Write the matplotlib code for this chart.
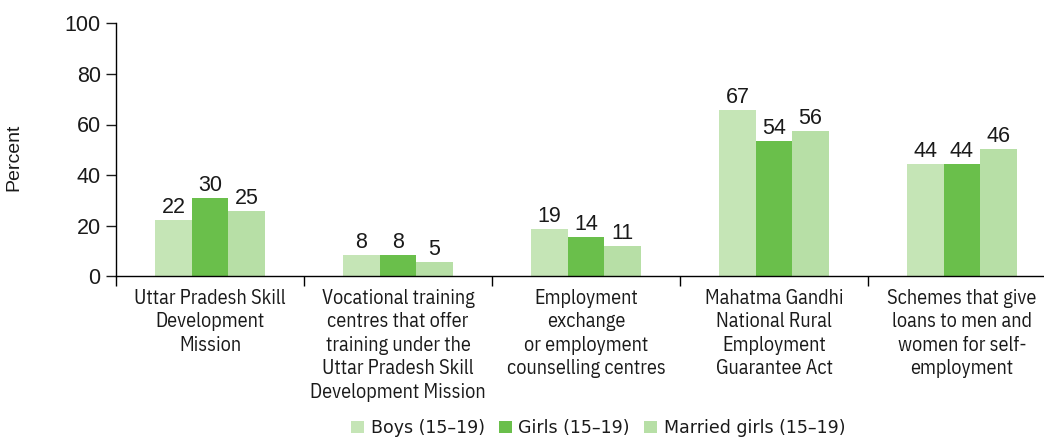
import matplotlib
matplotlib.use("Agg")
import matplotlib.pyplot as plt
import numpy as np

categories = [
    "Uttar Pradesh Skill\nDevelopment\nMission",
    "Vocational training\ncentres that offer\ntraining under the\nUttar Pradesh Skill\nDevelopment Mission",
    "Employment\nexchange\nor employment\ncounselling centres",
    "Mahatma Gandhi\nNational Rural\nEmployment\nGuarantee Act",
    "Schemes that give\nloans to men and\nwomen for self-\nemployment",
]
series_names = ["Boys (15\u201319)", "Girls (15\u201319)", "Married girls (15\u201319)"]
# bar heights as drawn in the reference
boys_heights = [22.3, 8.5, 18.7, 65.7, 44.4]
girls_heights = [30.9, 8.5, 15.5, 53.5, 44.4]
married_heights = [25.8, 5.6, 11.9, 57.4, 50.3]
# printed value labels
boys_labels = [22, 8, 19, 67, 44]
girls_labels = [30, 8, 14, 54, 44]
married_labels = [25, 5, 11, 56, 46]
yticks = [0, 20, 40, 60, 80, 100]

colors = ["#c5e5b6", "#6abf4b", "#b7dfa6"]

MAIN = ["Liberation Sans", "DejaVu Sans"]
NARROW = ["IBM Plex Sans Condensed", "Roboto Condensed", "DejaVu Sans"]
LEGEND = ["DejaVu Sans"]
plt.rcParams["font.family"] = MAIN
TXT = "#1a1a1a"

fig = plt.figure(figsize=(10.44, 4.41), dpi=100)
ax = fig.add_axes([116 / 1044, (441 - 276.3) / 441, 940 / 1044, 253 / 441])

x = np.arange(len(categories)) + 0.5
w = 0.194
heights = [boys_heights, girls_heights, married_heights]
labels = [boys_labels, girls_labels, married_labels]
for i, (h, lab) in enumerate(zip(heights, labels)):
    pos = x + (i - 1) * w
    bars = ax.bar(pos, h, width=w, color=colors[i], label=series_names[i], zorder=2)
    for b, l in zip(bars, lab):
        ax.text(b.get_x() + b.get_width() / 2, b.get_height() + 0.8, str(l),
                ha="center", va="bottom", fontsize=15.5, color=TXT)

ax.set_xlim(0, 5)
ax.set_ylim(0, 100)
ax.set_yticks(yticks)
ax.tick_params(axis="y", labelsize=15.5, length=7, width=1, pad=4, colors=TXT)
ax.set_xticks(np.arange(0, 6))
ax.set_xticklabels([])
ax.tick_params(axis="x", length=7, width=1)
for xi, c in zip(x, categories):
    ax.text(xi, -5.0, c, ha="center", va="top", fontsize=14.5, family=NARROW,
            linespacing=1.3, color=TXT)

for s in ["top", "right"]:
    ax.spines[s].set_visible(False)
ax.spines["left"].set_linewidth(1)
ax.spines["bottom"].set_linewidth(1)
ax.set_ylabel("Percent", fontsize=14, color=TXT)
ax.yaxis.set_label_coords((22 - 116) / 940, (276.3 - 157) / 253)

leg = fig.legend(loc="center", bbox_to_anchor=(598 / 1044, 1 - 428 / 441), ncol=3,
                 frameon=False, handlelength=0.75, handleheight=0.75,
                 handletextpad=0.4, columnspacing=0.8,
                 prop={"family": LEGEND, "size": 12.5})
for t in leg.get_texts():
    t.set_color(TXT)

fig.savefig("out.png", dpi=100)
